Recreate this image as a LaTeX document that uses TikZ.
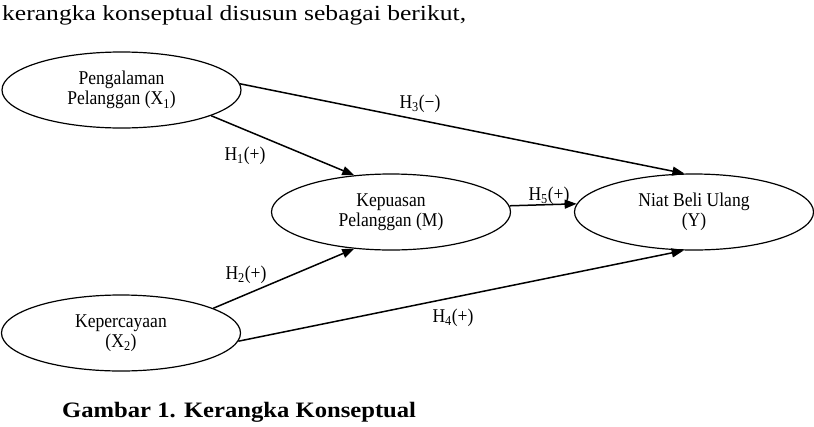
\documentclass[tikz,border=0pt]{standalone}
\usepackage{fontspec}
\setmainfont{Liberation Serif}[FakeStretch=0.9]
\newfontfamily\introfont{Liberation Serif}[FakeStretch=1.19]
\newfontfamily\capfont{Liberation Serif}[FakeStretch=1.12]
\usetikzlibrary{arrows.meta,shapes.geometric}

\tikzset{
  var/.style={draw, ellipse, line width=1.2pt, minimum width=239pt, minimum height=76pt,
    inner sep=0pt, align=center, font=\fontsize{19.5}{20.5}\selectfont},
  hyp/.style={font=\fontsize{19.5}{20}\selectfont, inner sep=0pt},
  hypline/.style={line width=1.5pt, -{Triangle[length=12pt,width=9pt]}}
}

\begin{document}
\begin{tikzpicture}[x=1pt,y=-1pt]
  \useasboundingbox (0,0) rectangle (814,426);
  % text above and below the picture
  \node [anchor=west, inner sep=0pt, font=\introfont\fontsize{21.5}{24}\selectfont] (intro) at (2,15)
    {kerangka konseptual disusun sebagai berikut,};
  \node [anchor=west, inner sep=0pt, font=\capfont\fontsize{22}{24}\selectfont\bfseries] (caption) at (62,412)
    {Gambar 1. Kerangka Konseptual};

  % variables
  \node [var] (x1) at (121.5,90) {Pengalaman\\Pelanggan (X\textsubscript{1})};
  \node [var] (x2) at (121,333) {Kepercayaan\\(X\textsubscript{2})};
  \node [var] (m) at (391,212) {Kepuasan\\Pelanggan (M)};
  \node [var] (y) at (694,212) {Niat Beli Ulang\\(Y)};

  % hypotheses
  \draw [hypline] (x1.3) -- (y.104);
  \draw [hypline] (x1.-16) -- (m.135);
  \draw [hypline] (x2.15) -- (m.225);
  \draw [hypline] (x2.-4) -- (y.255);
  \draw [hypline] (m.3.4) -- (y.176.6);

  \node [hyp] (h1) at (245,156) {H\textsubscript{1}(+)};
  \node [hyp] (h2) at (246,275) {H\textsubscript{2}(+)};
  \node [hyp] (h3) at (420,104) {H\textsubscript{3}(−)};
  \node [hyp] (h4) at (453,318) {H\textsubscript{4}(+)};
  \node [hyp] (h5) at (549,196) {H\textsubscript{5}(+)};
\end{tikzpicture}
\end{document}
